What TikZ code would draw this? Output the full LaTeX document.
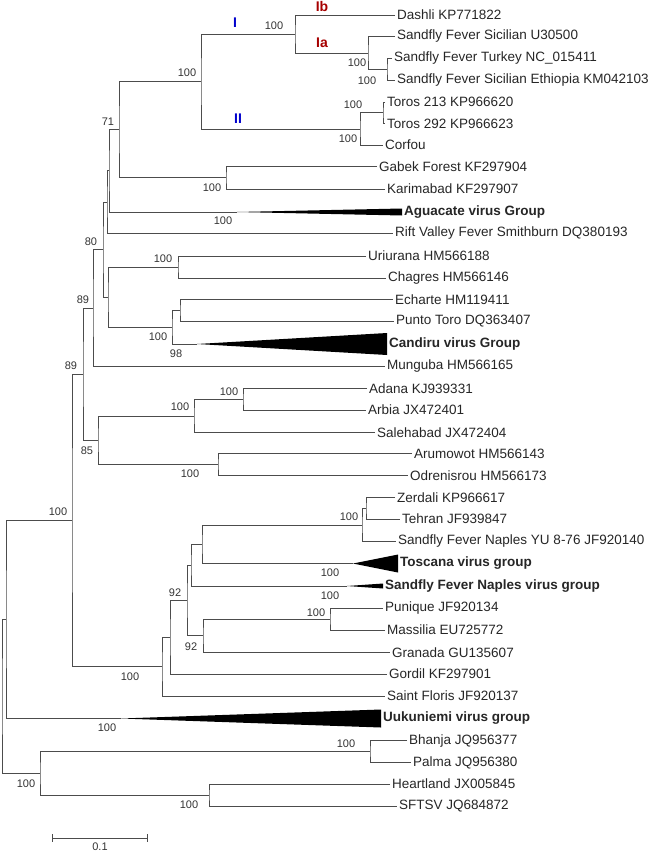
\documentclass[tikz,border=0pt]{standalone}
\usepackage{fontspec}
\setmainfont{Liberation Sans}
\begin{document}
\begin{tikzpicture}[x=1pt,y=-1pt,
  branch/.style={draw=black!70,line width=0.8pt},
  leaf/.style={anchor=west,inner sep=2pt,text=black!85,font=\fontsize{13.5}{14}\selectfont},
  group/.style={leaf,font=\fontsize{13.5}{14}\selectfont\bfseries},
  boot/.style={inner sep=0pt,text=black!80,font=\fontsize{11}{12}\selectfont},
  cladeblue/.style={inner sep=0pt,text=blue!80!black,font=\fontsize{14}{15}\selectfont\bfseries},
  cladered/.style={inner sep=0pt,text=red!65!black,font=\fontsize{14}{15}\selectfont\bfseries}]
\useasboundingbox (0,0) rectangle (650,854);

% leaves
\node[leaf] (dashli) at (395,15) {Dashli KP771822};
\node[leaf] (sfsic) at (395,36.5) {Sandfly Fever Sicilian U30500};
\node[leaf] (sftur) at (392,58.5) {Sandfly Fever Turkey NC\_015411};
\node[leaf] (sfeth) at (395,80.5) {Sandfly Fever Sicilian Ethiopia KM042103};
\node[leaf] (toros213) at (385,102) {Toros 213 KP966620};
\node[leaf] (toros292) at (385,123.5) {Toros 292 KP966623};
\node[leaf] (corfou) at (383,145) {Corfou};
\node[leaf] (gabek) at (377,166.5) {Gabek Forest KF297904};
\node[leaf] (karim) at (385,189) {Karimabad KF297907};
\node[group] (agua) at (402,212) {Aguacate virus Group};
\node[leaf] (rift) at (393,233.5) {Rift Valley Fever Smithburn DQ380193};
\node[leaf] (uriu) at (366,256) {Uriurana HM566188};
\node[leaf] (chag) at (386,278) {Chagres HM566146};
\node[leaf] (echa) at (393,299.5) {Echarte HM119411};
\node[leaf] (punto) at (394,321.5) {Punto Toro DQ363407};
\node[group] (candiru) at (387,344) {Candiru virus Group};
\node[leaf] (mung) at (385,366.5) {Munguba HM566165};
\node[leaf] (adana) at (367,388.5) {Adana KJ939331};
\node[leaf] (arbia) at (366,410) {Arbia JX472401};
\node[leaf] (saleh) at (375,432.5) {Salehabad JX472404};
\node[leaf] (arum) at (412,453.5) {Arumowot HM566143};
\node[leaf] (odre) at (408,475.5) {Odrenisrou HM566173};
\node[leaf] (zerd) at (395,497.5) {Zerdali KP966617};
\node[leaf] (tehr) at (400,519) {Tehran JF939847};
\node[leaf] (sfnyu) at (396,541.5) {Sandfly Fever Naples YU 8-76 JF920140};
\node[group] (tosc) at (398,563.5) {Toscana virus group};
\node[group] (sfng) at (383,586) {Sandfly Fever Naples virus group};
\node[leaf] (puni) at (383,608) {Punique JF920134};
\node[leaf] (mass) at (385,630) {Massilia EU725772};
\node[leaf] (gran) at (390,652.5) {Granada GU135607};
\node[leaf] (gord) at (387,674) {Gordil KF297901};
\node[leaf] (floris) at (385,696) {Saint Floris JF920137};
\node[group] (uuk) at (381,718.5) {Uukuniemi virus group};
\node[leaf] (bhan) at (407,740.5) {Bhanja JQ956377};
\node[leaf] (palma) at (411,762.5) {Palma JQ956380};
\node[leaf] (heart) at (390,784) {Heartland JX005845};
\node[leaf] (sftsv) at (397,806) {SFTSV JQ684872};

% collapsed groups
\coordinate (aguapex) at (237,212);
\coordinate (candapex) at (197,344);
\coordinate (toscapex) at (353,563.5);
\coordinate (sfngapex) at (347,586);
\coordinate (uukapex) at (121,718.5);
\fill (aguapex) -- ([yshift=3.5pt]agua.west) -- ([yshift=-3.5pt]agua.west) -- cycle;
\fill (candapex) -- ([yshift=11pt]candiru.west) -- ([yshift=-11pt]candiru.west) -- cycle;
\fill (toscapex) -- ([yshift=9pt]tosc.west) -- ([yshift=-9pt]tosc.west) -- cycle;
\fill (sfngapex) -- ([yshift=2.5pt]sfng.west) -- ([yshift=-2.5pt]sfng.west) -- cycle;
\fill (uukapex) -- ([yshift=9pt]uuk.west) -- ([yshift=-9pt]uuk.west) -- cycle;

% internal nodes
\coordinate (nte) at (387,69.5);
\coordinate (nsic) at (368,53);
\coordinate (nib) at (295,34);
\coordinate (ntor) at (383,112.75);
\coordinate (nii) at (360,128.9);
\coordinate (ni) at (201,81.45);
\coordinate (ngk) at (226,177.75);
\coordinate (n71) at (119,129.6);
\coordinate (na) at (109,170.8);
\coordinate (nb) at (107,202.15);
\coordinate (nuc) at (178,267);
\coordinate (nep) at (180,310.5);
\coordinate (nca) at (172,327.25);
\coordinate (nc) at (108,297.1);
\coordinate (n80) at (103,249.6);
\coordinate (nx) at (93,308);
\coordinate (naa) at (243,399.25);
\coordinate (nsal) at (194,415.9);
\coordinate (nao) at (218,464.5);
\coordinate (n85) at (98,440.2);
\coordinate (ny) at (83,374.1);
\coordinate (nzt) at (366,508.25);
\coordinate (nzts) at (362,524.9);
\coordinate (ntos) at (202,544.2);
\coordinate (nnap) at (191,565.1);
\coordinate (npm) at (330,619);
\coordinate (npmg) at (203,635.75);
\coordinate (nph) at (187,600.4);
\coordinate (nv) at (170,637.2);
\coordinate (nw) at (162,666.6);
\coordinate (nz) at (72,520.35);
\coordinate (nr) at (6,619.4);
\coordinate (nbp) at (370,751.5);
\coordinate (nhs) at (209,795);
\coordinate (nbh) at (40,773.25);
\coordinate (root) at (2,696.3);

% branches
\draw[branch] (sftur.west) -| (nte) |- (sfeth.west);
\draw[branch] (sfsic.west) -| (nsic) |- (nte);
\draw[branch] (dashli.west) -| (nib) |- (nsic);
\draw[branch] (toros213.west) -| (ntor) |- (toros292.west);
\draw[branch] (ntor) -| (nii) |- (corfou.west);
\draw[branch] (nib) -| (ni) |- (nii);
\draw[branch] (gabek.west) -| (ngk) |- (karim.west);
\draw[branch] (ni) -| (n71) |- (ngk);
\draw[branch] (n71) -| (na) |- (aguapex);
\draw[branch] (na) -| (nb) |- (rift.west);
\draw[branch] (uriu.west) -| (nuc) |- (chag.west);
\draw[branch] (echa.west) -| (nep) |- (punto.west);
\draw[branch] (nep) -| (nca) |- (candapex);
\draw[branch] (nuc) -| (nc) |- (nca);
\draw[branch] (nb) -| (n80) |- (nc);
\draw[branch] (n80) -| (nx) |- (mung.west);
\draw[branch] (adana.west) -| (naa) |- (arbia.west);
\draw[branch] (naa) -| (nsal) |- (saleh.west);
\draw[branch] (arum.west) -| (nao) |- (odre.west);
\draw[branch] (nsal) -| (n85) |- (nao);
\draw[branch] (nx) -| (ny) |- (n85);
\draw[branch] (zerd.west) -| (nzt) |- (tehr.west);
\draw[branch] (nzt) -| (nzts) |- (sfnyu.west);
\draw[branch] (nzts) -| (ntos) |- (toscapex);
\draw[branch] (ntos) -| (nnap) |- (sfngapex);
\draw[branch] (puni.west) -| (npm) |- (mass.west);
\draw[branch] (npm) -| (npmg) |- (gran.west);
\draw[branch] (nnap) -| (nph) |- (npmg);
\draw[branch] (nph) -| (nv) |- (gord.west);
\draw[branch] (nv) -| (nw) |- (floris.west);
\draw[branch] (ny) -| (nz) |- (nw);
\draw[branch] (nz) -| (nr) |- (uukapex);
\draw[branch] (bhan.west) -| (nbp) |- (palma.west);
\draw[branch] (heart.west) -| (nhs) |- (sftsv.west);
\draw[branch] (nbp) -| (nbh) |- (nhs);
\draw[branch] (nr) -| (root) |- (nbh);

% bootstrap values
\node[boot] (bnib) at (274,26) {100};
\node[boot] (bni) at (187,73) {100};
\node[boot] (bnsic) at (357,63) {100};
\node[boot] (bnte) at (367,81) {100};
\node[boot] (bntor) at (353,105) {100};
\node[boot] (bnii) at (348,139) {100};
\node[boot] (bn71) at (108,122) {71};
\node[boot] (bngk) at (212,188) {100};
\node[boot] (bagua) at (223,221) {100};
\node[boot] (bn80) at (91,242) {80};
\node[boot] (bnuc) at (163,259) {100};
\node[boot] (bnca) at (158,337) {100};
\node[boot] (bcand) at (176,354) {98};
\node[boot] (bnx) at (83,300) {89};
\node[boot] (bny) at (71,366) {89};
\node[boot] (bnaa) at (229,392) {100};
\node[boot] (bnsal) at (180,407) {100};
\node[boot] (bnao) at (190,474) {100};
\node[boot] (bn85) at (87,451) {85};
\node[boot] (bnz) at (58,512) {100};
\node[boot] (bnzts) at (349,517) {100};
\node[boot] (btosc) at (330,573) {100};
\node[boot] (bsfng) at (330,596) {100};
\node[boot] (bnpm) at (316,613) {100};
\node[boot] (bnv) at (175,593) {92};
\node[boot] (bnpmg) at (191,647) {92};
\node[boot] (bnw) at (130,677) {100};
\node[boot] (buuk) at (107,728) {100};
\node[boot] (bnbp) at (346,744) {100};
\node[boot] (bnbh) at (26,784) {100};
\node[boot] (bnhs) at (189,805) {100};

% clade labels
\node[cladeblue] (cladei) at (235,23) {I};
\node[cladeblue] (cladeii) at (238,119) {II};
\node[cladered] (cladeib) at (322,6) {Ib};
\node[cladered] (cladeia) at (322,43) {Ia};

% scale bar
\coordinate (sbl) at (52,838);
\coordinate (sbr) at (148,838);
\draw[branch,|-|] (sbl) -- (sbr);
\node[boot] (sblabel) at (100,847) {0.1};
\end{tikzpicture}
\end{document}
